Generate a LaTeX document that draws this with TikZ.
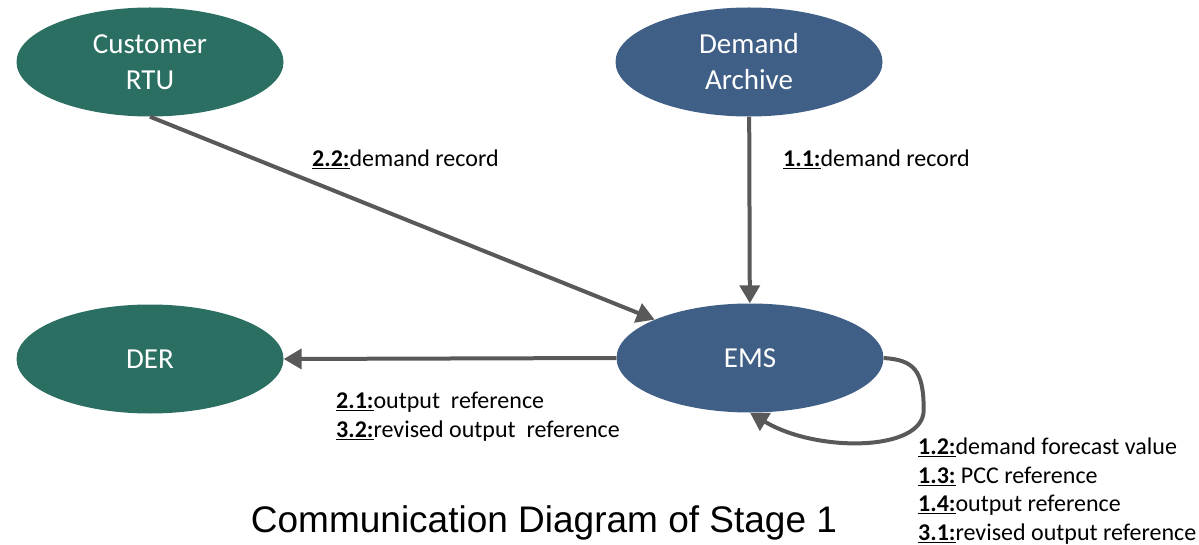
\documentclass[tikz,border=0pt]{standalone}
\usepackage{fontspec}
\setmainfont{Carlito}
\newfontfamily\arialfont{Liberation Sans}
\usetikzlibrary{arrows.meta,positioning,shapes.geometric}
\definecolor{Gc}{HTML}{2A6F61}
\definecolor{Bc}{HTML}{3F5F86}
\definecolor{Ac}{HTML}{595959}
\tikzset{
  gEl/.style={ellipse, fill=Gc, text=white, inner sep=0pt, minimum width=267pt, minimum height=109pt, align=center, font=\fontsize{29}{36}\selectfont},
  bEl/.style={gEl, fill=Bc},
  flow/.style={-{Triangle[length=18pt,width=20pt]}, draw=Ac, line width=4pt},
  lbl/.style={anchor=west, inner sep=0pt, align=left, font=\fontsize{24}{28.5}\selectfont},
}
\newcommand{\msg}[1]{\underline{\textbf{#1:}}}

\begin{document}
\begin{tikzpicture}[x=1pt,y=-1pt]
  \useasboundingbox (0,0) rectangle (1199,545);
  \node[gEl] (rtu) at (150,62) {Customer\\RTU};
  \node[bEl] (arch) at (749,62) {Demand\\Archive};
  \node[gEl] (der) at (150,359) {DER};
  \node[bEl] (ems) at (750,358) {EMS};
  \draw[flow] (rtu.south) -- (ems);
  \draw[flow] (arch) -- (ems);
  \draw[flow] (ems.west) -- (der.east);
  \draw[flow] (ems.east) .. controls +(30,2) and +(0,-40) .. ++(40,52)
    .. controls +(0,42) and +(66,40) .. (ems.south);
  \node[lbl] (l22) at (312,159) {\msg{2.2}demand record};
  \node[lbl] (l11) at (783,159) {\msg{1.1}demand record};
  \node[lbl, anchor=north west] (l21) at (336,392) {\msg{2.1}output\ \ reference\\\msg{3.2}revised output\ \ reference};
  \node[lbl, anchor=north west] (l12) at (918,438) {\msg{1.2}demand forecast value\\\msg{1.3} PCC reference\\\msg{1.4}output reference\\\msg{3.1}revised output reference};
  \node[font=\arialfont\fontsize{37}{40}\selectfont] (ttl) at (544,523) {Communication Diagram of Stage 1};
\end{tikzpicture}
\end{document}
